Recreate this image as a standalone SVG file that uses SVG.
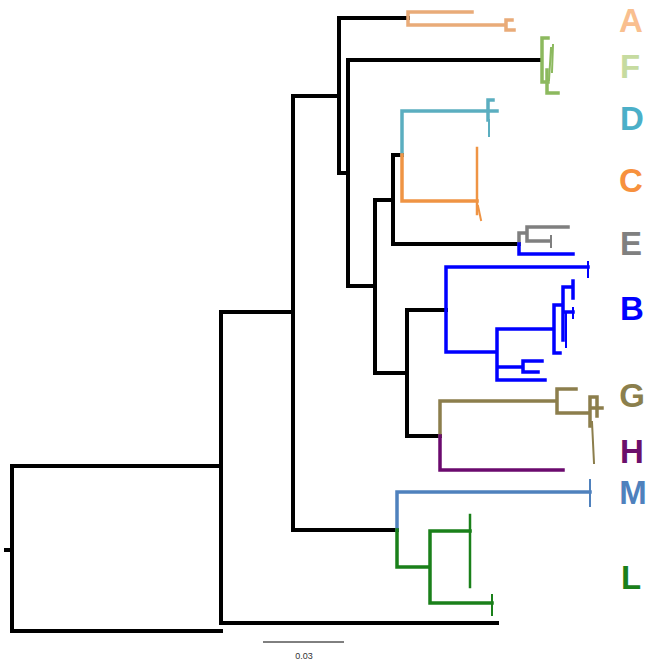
<svg xmlns="http://www.w3.org/2000/svg" width="648" height="663" viewBox="0 0 648 663">
<style>
.b{fill:none;stroke:#000;stroke-width:4;stroke-linecap:square}
.c{fill:none;stroke-width:3.5;stroke-linecap:square}
.t{fill:none;stroke-width:2;stroke-linecap:square}
.m{fill:none;stroke-width:2.5;stroke-linecap:square}
.lab{font-family:"Liberation Sans",Arial,sans-serif;font-weight:bold;font-size:33px;text-anchor:middle}
</style>
<rect width="648" height="663" fill="#fff"/>
<g id="connectors">
<path class="b" d="M6 550H12M12 466V631M12 466H221M12 631H221M221 312V623M221 312H293M221 623H497M293 96V530M293 96H339M293 530H397M339 18V173M339 18H408M339 173H348M348 60V286M348 60H540M348 286H375M375 200V373M375 200H393M375 373H407M393 155V244M393 155H402M393 244H519M407 310V436M407 310H446M407 436H440"/>
</g>
<g id="cladeA" stroke="#E9AB78">
<path class="c" d="M408 12V25M408 12H472M408 25H506M506 20V30M506 20H512M506 30H514"/>
</g>
<g id="cladeF" stroke="#8CB95E">
<path class="c" d="M542 38V82M542 38H548M542 82H548M547 70V93H558"/>
<path class="t" d="M551 48L549 80M553 45L552 72"/>
</g>
<g id="cladeD" stroke="#5BAEC0">
<path class="c" d="M402 111V155M402 111H488M488 100V120M488 100H493M488 111H497"/>
<path class="t" d="M489 120V136"/>
</g>
<g id="cladeC" stroke="#EF9444">
<path class="c" d="M402 155V201H477"/>
<path class="m" d="M477 148V214"/>
<path class="t" d="M478 206L481 220"/>
</g>
<g id="cladeE" stroke="#7F7F7F">
<path class="c" d="M519 233V244M519 233H527M527 227V241M527 227H568M527 241H550"/>
<path class="t" d="M551 236V247"/>
</g>
<g id="cladeB" stroke="#0000FF">
<path class="c" d="M519 244V254H573M446 267V352M446 267H588M446 352H497M497 329V380M497 329H554M497 367H523M523 361V372M523 361H542M523 372H538M497 380H545M554 305V353M554 353H560M554 305H563M563 287V340M563 287H573M573 281V298M565 312H573"/>
<path class="t" d="M588 262V277M573 308V318M566 312V347"/>
</g>
<g id="cladeG" stroke="#8C7E4C">
<path class="c" d="M440 401V436M440 401H557M557 389V413M557 389H576M557 413H590M590 397V426M590 397H597M597 397V416M590 408H602"/>
<path class="t" d="M592 422L594 463"/>
</g>
<g id="cladeH" stroke="#6B0A6E">
<path class="c" d="M440 436V470H563"/>
</g>
<g id="cladeM" stroke="#4F81BD">
<path class="c" d="M397 492V530M397 492H590"/>
<path class="t" d="M590 480V506"/>
</g>
<g id="cladeL" stroke="#1A801A">
<path class="c" d="M397 530V567H430M430 531V603M430 531H470M430 603H492"/>
<path class="m" d="M470 515V587"/>
<path class="t" d="M492 595V615"/>
</g>
<g id="labels">
<g id="labelA"><text class="lab" x="631" y="32" fill="#F9BF8F">A</text></g>
<g id="labelF"><text class="lab" x="630" y="78" fill="#C6DBA0">F</text></g>
<g id="labelD"><text class="lab" x="632" y="130" fill="#4BAFC8">D</text></g>
<g id="labelC"><text class="lab" x="631" y="192" fill="#F7913D">C</text></g>
<g id="labelE"><text class="lab" x="631" y="255" fill="#808080">E</text></g>
<g id="labelB"><text class="lab" x="632" y="320" fill="#0000FF">B</text></g>
<g id="labelG"><text class="lab" x="632" y="407" fill="#8B7F4D">G</text></g>
<g id="labelH"><text class="lab" x="632" y="463" fill="#6B0F6B">H</text></g>
<g id="labelM"><text class="lab" x="633" y="504" fill="#4F81BD">M</text></g>
<g id="labelL"><text class="lab" x="631" y="589" fill="#1A801A">L</text></g>
</g>
<g id="scalebar">
<path d="M263 642H344" stroke="#000" stroke-width="1"/>
<text x="304" y="659" font-family="Liberation Sans,Arial,sans-serif" font-size="9" fill="#333" text-anchor="middle">0.03</text>
</g>
</svg>
